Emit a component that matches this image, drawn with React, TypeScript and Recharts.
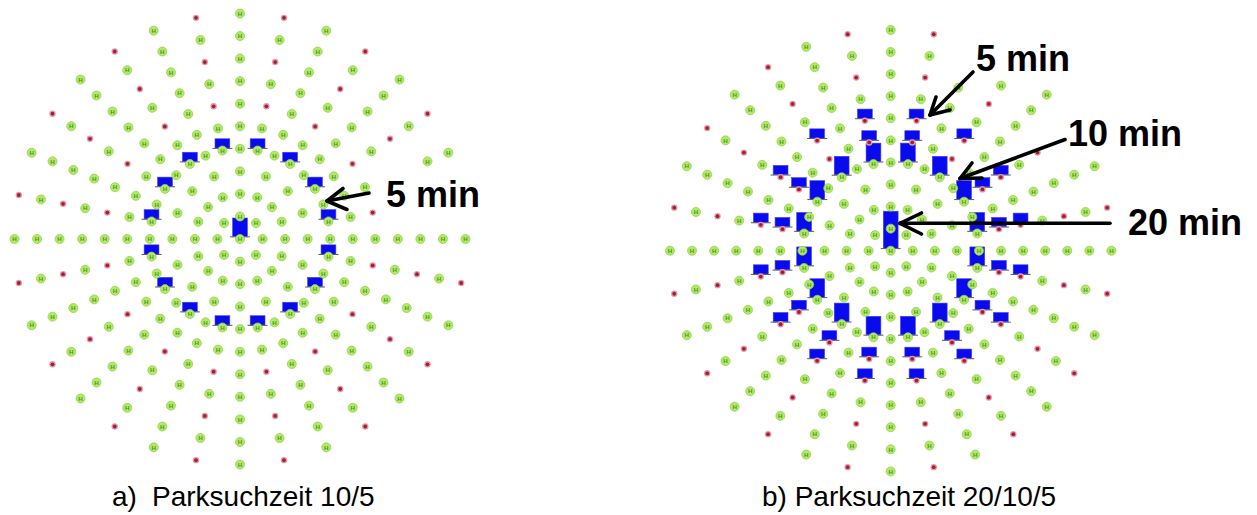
import React from 'react';
import {
  RadarChart,
  Radar,
  PolarAngleAxis,
  PolarRadiusAxis,
  ScatterChart,
  Scatter,
  XAxis,
  YAxis,
  ReferenceLine,
} from 'recharts';

// ---- angle positions (degrees, clockwise from top) ----
const ANGLES_ALL = [0, 11.25, 22.5, 33.75, 45, 56.25, 67.5, 78.75, 90, 101.25, 112.5, 123.75, 135, 146.25, 157.5, 168.75, 180, 191.25, 202.5, 213.75, 225, 236.25, 247.5, 258.75, 270, 281.25, 292.5, 303.75, 315, 326.25, 337.5, 348.75];
const ANGLES_EVEN = [0, 22.5, 45, 67.5, 90, 112.5, 135, 157.5, 180, 202.5, 225, 247.5, 270, 292.5, 315, 337.5];
const ANGLES_ODD = [11.25, 33.75, 56.25, 78.75, 101.25, 123.75, 146.25, 168.75, 191.25, 213.75, 236.25, 258.75, 281.25, 303.75, 326.25, 348.75];
const ANGLES_QUARTER = [0, 45, 90, 135, 180, 225, 270, 315];
const ANGLES_CENTER = [0];

// nodes hidden behind the "5 min" label of panel a)
const LEFT_R7_VISIBLE = [0, 11.25, 22.5, 33.75, 45, 56.25, 90, 101.25, 112.5, 123.75, 135, 146.25, 157.5, 168.75, 180, 191.25, 202.5, 213.75, 225, 236.25, 247.5, 258.75, 270, 281.25, 292.5, 303.75, 315, 326.25, 337.5, 348.75];
const LEFT_R8_GREEN_VISIBLE = [0, 22.5, 45, 90, 112.5, 135, 157.5, 180, 202.5, 225, 247.5, 270, 292.5, 315, 337.5];
const LEFT_R8_RED_VISIBLE = [11.25, 33.75, 56.25, 101.25, 123.75, 146.25, 168.75, 191.25, 213.75, 236.25, 258.75, 281.25, 303.75, 326.25, 348.75];
const LEFT_R9_VISIBLE = [0, 11.25, 22.5, 33.75, 45, 56.25, 67.5, 90, 101.25, 112.5, 123.75, 135, 146.25, 157.5, 168.75, 180, 191.25, 202.5, 213.75, 225, 236.25, 247.5, 258.75, 270, 281.25, 292.5, 303.75, 315, 326.25, 337.5, 348.75];
const LEFT_R10_RED_VISIBLE = [11.25, 33.75, 56.25, 101.25, 123.75, 146.25, 168.75, 191.25, 213.75, 236.25, 258.75, 281.25, 303.75, 326.25, 348.75];

// nodes hidden behind the "5 min" / "10 min" labels of panel b)
const RIGHT_R9_VISIBLE = [0, 11.25, 33.75, 45, 67.5, 78.75, 90, 101.25, 112.5, 123.75, 135, 146.25, 157.5, 168.75, 180, 191.25, 202.5, 213.75, 225, 236.25, 247.5, 258.75, 270, 281.25, 292.5, 303.75, 315, 326.25, 337.5, 348.75];
const RIGHT_R10_GREEN_VISIBLE = [0, 45, 67.5, 90, 112.5, 135, 157.5, 180, 202.5, 225, 247.5, 270, 292.5, 315, 337.5];
const RIGHT_R10_RED_VISIBLE = [11.25, 78.75, 101.25, 123.75, 146.25, 168.75, 191.25, 213.75, 236.25, 258.75, 281.25, 303.75, 326.25, 348.75];
const RIGHT_R5_BARS = [11.25, 56.25, 78.75, 101.25, 123.75, 146.25, 168.75, 191.25, 213.75, 236.25, 258.75, 281.25, 303.75, 348.75];

type Ring = { ring: number; angles: number[] };
type BarRing = { ring: number; angles: number[]; minutes: number };

// ---- panel a) Parksuchzeit 10/5 ----
const leftGreen: Ring[] = [
  { ring: 0, angles: ANGLES_CENTER },
  { ring: 1, angles: ANGLES_QUARTER },
  { ring: 2, angles: ANGLES_EVEN },
  { ring: 3, angles: ANGLES_EVEN },
  { ring: 4, angles: ANGLES_ALL },
  { ring: 5, angles: ANGLES_ALL },
  { ring: 6, angles: ANGLES_EVEN },
  { ring: 7, angles: LEFT_R7_VISIBLE },
  { ring: 8, angles: LEFT_R8_GREEN_VISIBLE },
  { ring: 9, angles: LEFT_R9_VISIBLE },
  { ring: 10, angles: ANGLES_EVEN },
];
const leftRed: Ring[] = [
  { ring: 6, angles: ANGLES_ODD },
  { ring: 8, angles: LEFT_R8_RED_VISIBLE },
  { ring: 10, angles: LEFT_R10_RED_VISIBLE },
];
const leftBars: BarRing[] = [
  { ring: 0, angles: ANGLES_CENTER, minutes: 10 },
  { ring: 4, angles: ANGLES_ODD, minutes: 5 },
];

// ---- panel b) Parksuchzeit 20/10/5 ----
const rightGreen: Ring[] = [
  { ring: 0, angles: ANGLES_CENTER },
  { ring: 1, angles: ANGLES_QUARTER },
  { ring: 2, angles: ANGLES_EVEN },
  { ring: 3, angles: ANGLES_EVEN },
  { ring: 4, angles: ANGLES_ALL },
  { ring: 5, angles: ANGLES_EVEN },
  { ring: 6, angles: ANGLES_EVEN },
  { ring: 7, angles: ANGLES_ALL },
  { ring: 8, angles: ANGLES_EVEN },
  { ring: 9, angles: RIGHT_R9_VISIBLE },
  { ring: 10, angles: RIGHT_R10_GREEN_VISIBLE },
];
const rightRed: Ring[] = [
  { ring: 5, angles: ANGLES_ODD },
  { ring: 6, angles: ANGLES_ODD },
  { ring: 8, angles: ANGLES_ODD },
  { ring: 10, angles: RIGHT_R10_RED_VISIBLE },
];
const rightBars: BarRing[] = [
  { ring: 0, angles: ANGLES_CENTER, minutes: 20 },
  { ring: 4, angles: ANGLES_ODD, minutes: 10 },
  { ring: 5, angles: RIGHT_R5_BARS, minutes: 5 },
  { ring: 6, angles: ANGLES_ODD, minutes: 5 },
];

// ---- annotations ----
const noteLabels = [
  { text: '5 min', x: 386, y: 207, kind: 'note' },
  { text: '5 min', x: 976, y: 71, kind: 'note' },
  { text: '10 min', x: 1068, y: 146, kind: 'note' },
  { text: '20 min', x: 1128, y: 235, kind: 'note' },
  { text: 'a)', x: 112, y: 506, kind: 'caption' },
  { text: 'Parksuchzeit 10/5', x: 152, y: 506, kind: 'caption' },
  { text: 'b) Parksuchzeit 20/10/5', x: 762, y: 506, kind: 'caption' },
];
const arrows = [
  { tail: [369, 193], tip: [327, 201], arms: [[343, 188.5], [347, 209.5]] },
  { tail: [973, 72], tip: [930, 115], arms: [[936, 97], [950, 110]] },
  { tail: [1065, 139.5], tip: [960, 178.5], arms: [[972, 163], [982, 178]] },
  { tail: [1110, 223.3], tip: [900, 223.3], arms: [[921.5, 213], [921.5, 234]] },
];

const PX_PER_MIN = 1.85;
const FONT = "'Liberation Sans', Arial, Helvetica, sans-serif";

function buildRows(green: Ring[], red: Ring[], bars: BarRing[]) {
  return ANGLES_ALL.map((a) => {
    const row: Record<string, number | null> = { angle: a };
    green.forEach((g) => {
      row['g' + g.ring] = g.angles.includes(a) ? g.ring : null;
    });
    red.forEach((g) => {
      row['r' + g.ring] = g.angles.includes(a) ? g.ring : null;
    });
    bars.forEach((g) => {
      row['b' + g.ring] = g.angles.includes(a) ? g.ring : null;
    });
    return row;
  });
}

function present(p: any, key: string) {
  if (!p || !Number.isFinite(p.cx) || !Number.isFinite(p.cy)) return false;
  const row = (p.payload && p.payload.payload) || p.payload;
  const raw = row ? row[key] : null;
  return raw !== null && raw !== undefined;
}

const greenDot = (key: string) => (p: any) => {
  if (!present(p, key)) return <g key={`${key}-${p.index}`} />;
  return (
    <g key={`${key}-${p.index}`}>
      <circle cx={p.cx} cy={p.cy} r={4.5} fill="#b3e968" stroke="#93d24a" strokeWidth={0.8} />
      <text
        x={p.cx}
        y={p.cy + 2.2}
        textAnchor="middle"
        fontSize={6.2}
        fontWeight="bold"
        fontFamily={FONT}
        fill="#479a22"
      >
        H
      </text>
    </g>
  );
};

const redDot = (key: string) => (p: any) => {
  if (!present(p, key)) return <g key={`${key}-${p.index}`} />;
  return (
    <g key={`${key}-${p.index}`}>
      <circle cx={p.cx} cy={p.cy} r={3.2} fill="#e89aa4" />
      <circle cx={p.cx} cy={p.cy} r={1.9} fill="#9f2036" />
    </g>
  );
};

const barDot = (key: string, minutes: number) => (p: any) => {
  if (!present(p, key)) return <g key={`${key}-${p.index}`} />;
  const h = minutes * PX_PER_MIN;
  const w = 14.8;
  const base = p.cy - 2.5;
  return (
    <g key={`${key}-${p.index}`}>
      <rect x={p.cx - w / 2} y={base - h} width={w} height={h} fill="#0a0aee" stroke="#4040f4" strokeWidth={0.6} />
      <line x1={p.cx - 10} x2={p.cx + 10} y1={base + 0.4} y2={base + 0.4} stroke="#5a5a66" strokeWidth={1} />
    </g>
  );
};

function Panel(props: {
  green: Ring[];
  red: Ring[];
  bars: BarRing[];
  width: number;
  height: number;
  cx: number;
  cy: number;
  outerRadius: number;
}) {
  const { green, red, bars, width, height, cx, cy, outerRadius } = props;
  const rows = buildRows(green, red, bars);
  return (
    <RadarChart
      width={width}
      height={height}
      data={rows}
      cx={cx}
      cy={cy}
      outerRadius={outerRadius}
      innerRadius={0}
      startAngle={90}
      endAngle={-270}
      margin={{ top: 0, right: 0, bottom: 0, left: 0 }}
      style={{ overflow: 'visible' }}
    >
      <PolarAngleAxis dataKey="angle" type="number" domain={[0, 360]} tick={false} axisLine={false} />
      <PolarRadiusAxis type="number" domain={[0, 10]} tick={false} axisLine={false} />
      {bars.map((b) => (
        <Radar
          key={'b' + b.ring}
          dataKey={'b' + b.ring}
          stroke="none"
          fill="none"
          fillOpacity={0}
          isAnimationActive={false}
          activeDot={false}
          dot={barDot('b' + b.ring, b.minutes)}
        />
      ))}
      {green.map((g) => (
        <Radar
          key={'g' + g.ring}
          dataKey={'g' + g.ring}
          stroke="none"
          fill="none"
          fillOpacity={0}
          isAnimationActive={false}
          activeDot={false}
          dot={greenDot('g' + g.ring)}
        />
      ))}
      {red.map((g) => (
        <Radar
          key={'r' + g.ring}
          dataKey={'r' + g.ring}
          stroke="none"
          fill="none"
          fillOpacity={0}
          isAnimationActive={false}
          activeDot={false}
          dot={redDot('r' + g.ring)}
        />
      ))}
    </RadarChart>
  );
}

const LabelShape = (p: any) => {
  const d = p.payload || {};
  const note = d.kind === 'note';
  return (
    <text
      x={p.cx}
      y={p.cy}
      fontSize={note ? 36 : 28}
      fontWeight={note ? 'bold' : 'normal'}
      fontFamily={FONT}
      fill="#000"
    >
      {d.text}
    </text>
  );
};

export default function App() {
  return (
    <div style={{ position: 'absolute', left: 0, top: 0, width: 1257, height: 515, background: '#fff', overflow: 'hidden' }}>
      <div style={{ position: 'absolute', left: 0, top: 0 }}>
        <Panel green={leftGreen} red={leftRed} bars={leftBars} width={490} height={480} cx={240} cy={239} outerRadius={225.5} />
      </div>
      <div style={{ position: 'absolute', left: 640, top: 0 }}>
        <Panel green={rightGreen} red={rightRed} bars={rightBars} width={490} height={480} cx={250.7} cy={250.7} outerRadius={220.7} />
      </div>
      <div style={{ position: 'absolute', left: 0, top: 0 }}>
        <ScatterChart width={1257} height={515} margin={{ top: 0, right: 0, bottom: 0, left: 0 }}>
          <XAxis type="number" dataKey="x" domain={[0, 1257]} allowDataOverflow hide />
          <YAxis type="number" dataKey="y" domain={[0, 515]} allowDataOverflow reversed hide />
          {arrows.map((a, i) => (
            <ReferenceLine
              key={'shaft' + i}
              segment={[{ x: a.tail[0], y: a.tail[1] }, { x: a.tip[0], y: a.tip[1] }]}
              stroke="#000"
              strokeWidth={3.6}
              strokeLinecap="round"
              ifOverflow="visible"
            />
          ))}
          {arrows.flatMap((a, i) =>
            a.arms.map((arm, j) => (
              <ReferenceLine
                key={'arm' + i + '-' + j}
                segment={[{ x: a.tip[0], y: a.tip[1] }, { x: arm[0], y: arm[1] }]}
                stroke="#000"
                strokeWidth={3.6}
                strokeLinecap="round"
                ifOverflow="visible"
              />
            ))
          )}
          <Scatter data={noteLabels} dataKey="y" shape={LabelShape} isAnimationActive={false} />
        </ScatterChart>
      </div>
    </div>
  );
}
